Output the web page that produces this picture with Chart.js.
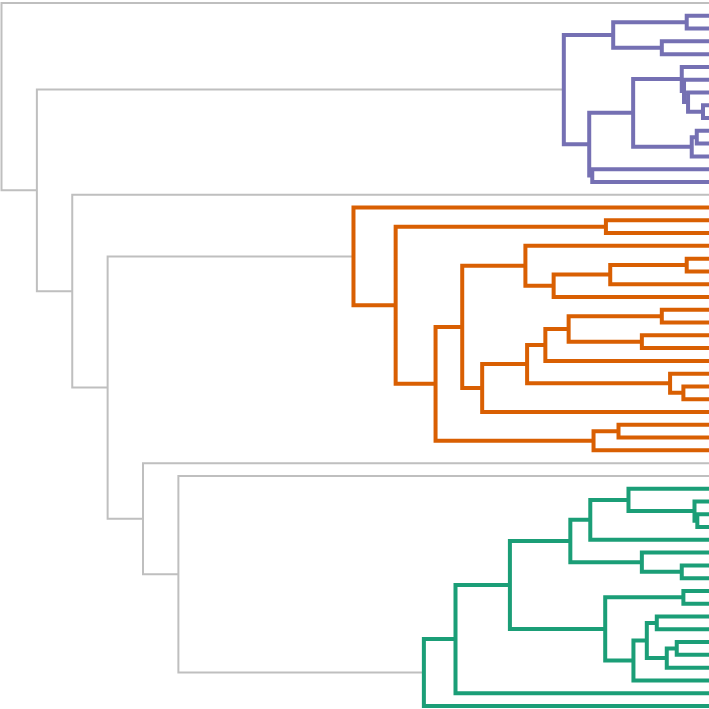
<!DOCTYPE html>
<html>
<head>
<meta charset="utf-8">
<script src="https://cdn.jsdelivr.net/npm/chart.js@4/dist/chart.umd.min.js"></script>
<style>
html,body{margin:0;padding:0;background:#ffffff;}
#wrap{width:709px;height:709px;}
</style>
</head>
<body>
<div id="wrap"><canvas id="c" width="709" height="709"></canvas></div>
<script>
// Leaves are numbered 0..55 in display order (top to bottom).
const leafCount = 56;

// Merges (children listed before parents). Numbers = leaves, strings = earlier merges.
const mergeIds = [
  'P1','P2','P3','P4','P5','P6','P7','P8','P9','P10','P11','P12','P13',
  'O1','O2','O3','O4','O5','O6','O7','O8','O9','O10','O11','O12','O13','O14','O15','O16','O17','O18','O19',
  'G1','G2','G3','G4','G5','G6','G7','G8','G9','G10','G11','G12','G13','G14','G15','G16','G17',
  'N5','N4','N3','N2','N1','R0'
];
const mergeLeft = [
  1, 3, 'P1', 8, 7, 6, 5, 10, 'P8', 'P7', 13, 'P10', 'P3',
  17, 20, 'O2', 'O3', 19, 24, 26, 'O6', 'O8', 30, 29, 'O9', 'O12', 'O5', 33, 'O15', 'O14', 'O1', 16,
  40, 39, 38, 'G3', 44, 43, 'G4', 46, 48, 50, 'G10', 'G9', 'G12', 'G8', 'G7', 'G15', 'G16',
  37, 36, 'O19', 15, 'P13', 0
];
const mergeRight = [
  2, 4, 'P2', 9, 'P4', 'P5', 'P6', 11, 12, 'P9', 14, 'P11', 'P12',
  18, 21, 22, 23, 'O4', 25, 27, 'O7', 28, 31, 'O10', 'O11', 32, 'O13', 34, 35, 'O16', 'O17', 'O18',
  41, 'G1', 'G2', 42, 45, 'G5', 'G6', 47, 49, 51, 52, 'G11', 53, 'G13', 'G14', 54, 55,
  'G17', 'N5', 'N4', 'N3', 'N2', 'N1'
];
const mergeHeight = [
  3.15, 6.67, 13.54, 0.85, 2.96, 3.53, 3.85, 1.73, 2.44, 10.72, 16.50, 16.93, 20.52,
  14.57, 3.15, 13.96, 21.96, 25.95, 6.67, 9.49, 19.84, 23.13, 3.62, 5.50, 25.71, 32.06, 34.88, 12.79, 16.32, 38.65, 44.29, 50.25,
  1.65, 2.05, 11.38, 16.78, 3.85, 9.49, 19.60, 3.62, 7.38, 4.56, 5.97, 8.79, 10.68, 14.67, 28.14, 35.83, 40.30,
  75, 80, 85, 90, 95, 100
];
const mergeGroup = [
  'C1','C1','C1','C1','C1','C1','C1','C1','C1','C1','C1','C1','C1',
  'C2','C2','C2','C2','C2','C2','C2','C2','C2','C2','C2','C2','C2','C2','C2','C2','C2','C2','C2',
  'C3','C3','C3','C3','C3','C3','C3','C3','C3','C3','C3','C3','C3','C3','C3','C3','C3',
  'above','above','above','above','above','above'
];

// Styles (kept apart from the data)
const groupStyle = {
  C1:    {color: '#7570b3', width: 4},
  C2:    {color: '#d95f02', width: 4},
  C3:    {color: '#1b9e77', width: 4},
  above: {color: '#bfbfbf', width: 2}
};
const drawOrder = ['C1', 'C2', 'C3', 'above'];

// Build the link polylines in data coordinates
const pos = {};
function resolve(ref) {
  if (typeof ref === 'number') return {x: 0, y: ref};
  return pos[ref];
}
const groupPoints = {C1: [], C2: [], C3: [], above: []};
mergeIds.forEach((id, i) => {
  const a = resolve(mergeLeft[i]);
  const b = resolve(mergeRight[i]);
  const h = mergeHeight[i];
  pos[id] = {x: h, y: (a.y + b.y) / 2};
  const pts = groupPoints[mergeGroup[i]];
  if (pts.length) pts.push({x: null, y: null});
  pts.push({x: a.x, y: a.y}, {x: h, y: a.y}, {x: h, y: b.y}, {x: b.x, y: b.y});
});

const datasets = drawOrder.map(g => ({
  label: g,
  data: groupPoints[g],
  showLine: true,
  spanGaps: false,
  borderColor: groupStyle[g].color,
  backgroundColor: groupStyle[g].color,
  borderWidth: groupStyle[g].width,
  borderJoinStyle: 'miter',
  borderCapStyle: 'butt',
  pointRadius: 0,
  pointHoverRadius: 0,
  tension: 0,
  fill: false,
  clip: false
}));

new Chart(document.getElementById('c').getContext('2d'), {
  type: 'scatter',
  data: {datasets},
  options: {
    responsive: false,
    animation: false,
    devicePixelRatio: 1,
    layout: {padding: {left: 1.5, right: 0, top: 3, bottom: 3}},
    plugins: {legend: {display: false}, tooltip: {enabled: false}},
    scales: {
      x: {type: 'linear', reverse: true, min: 0, max: 100, display: false},
      y: {type: 'linear', reverse: true, min: 0, max: leafCount - 1, display: false}
    }
  }
});
</script>
</body>
</html>
